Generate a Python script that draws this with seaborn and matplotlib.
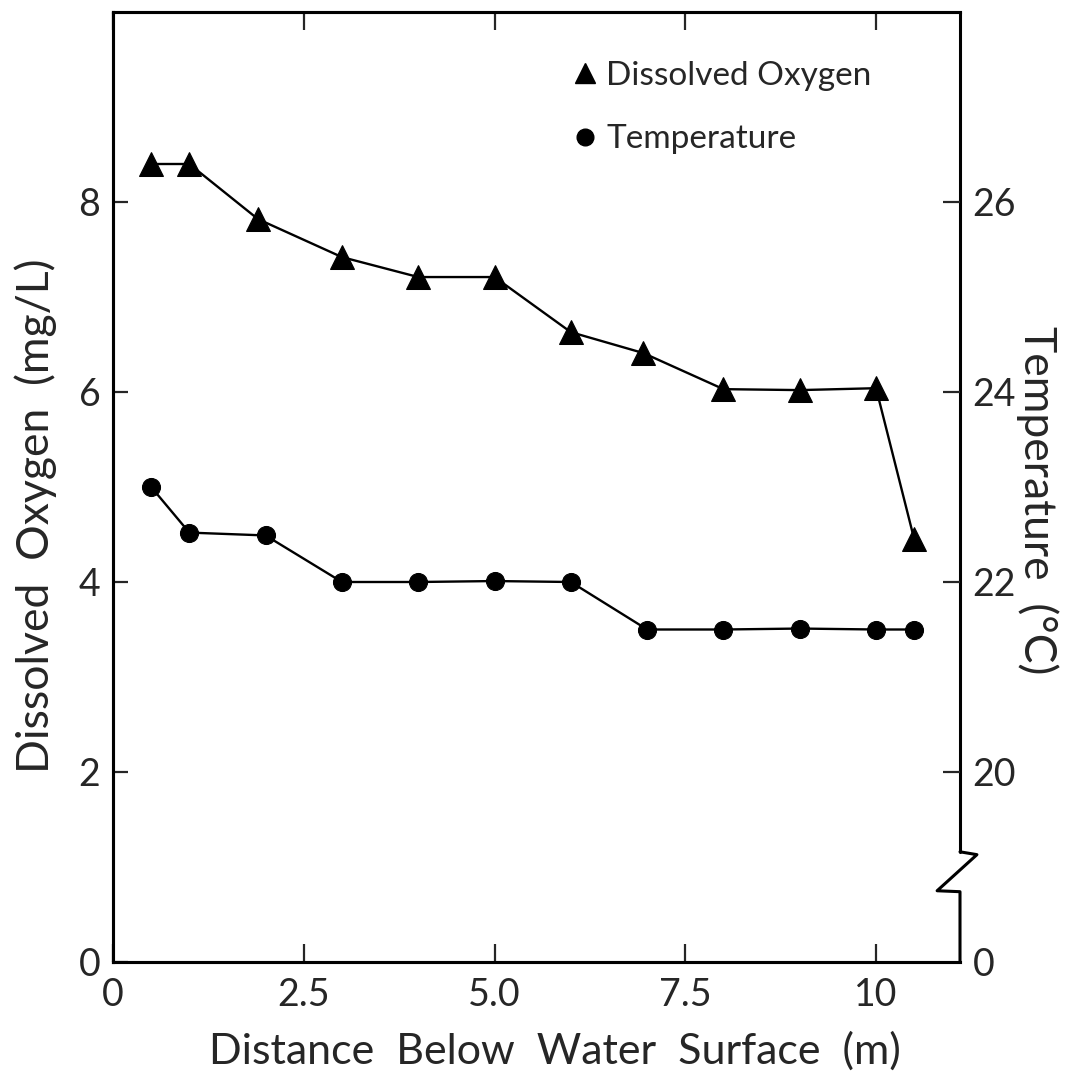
import numpy as np
import pandas as pd
import seaborn as sns
import matplotlib.pyplot as plt
from matplotlib.lines import Line2D

# depth (m) and readings
do_depth = [0.5, 1.0, 1.9, 3.0, 4.0, 5.0, 6.0, 6.95, 8.0, 9.0, 10.0, 10.5]
do_mgl = [8.4, 8.4, 7.82, 7.42, 7.21, 7.21, 6.63, 6.41, 6.03, 6.02, 6.04, 4.45]
temp_depth = [0.5, 1.0, 2.0, 3.0, 4.0, 5.0, 6.0, 7.0, 8.0, 9.0, 10.0, 10.5]
temp_c = [23.0, 22.52, 22.49, 22.0, 22.0, 22.01, 22.0, 21.5, 21.5, 21.51, 21.5, 21.5]

x_ticks = [0, 2.5, 5.0, 7.5, 10]
x_labels = ['0', '2.5', '5.0', '7.5', '10']
do_ticks = [0, 2, 4, 6, 8]
temp_ticks = [18, 20, 22, 24, 26]
temp_labels = ['0', '20', '22', '24', '26']

sns.set_style('ticks')
plt.rcParams['font.family'] = ['Lato', 'DejaVu Sans']

fig = plt.figure(figsize=(10.7, 10.73), dpi=100)
ax = fig.add_axes([113 / 1070, 1 - 962 / 1073, (960 - 113) / 1070, (962 - 12) / 1073])
ax2 = ax.twinx()

df_do = pd.DataFrame({'depth': do_depth, 'do': do_mgl})
df_t = pd.DataFrame({'depth': temp_depth, 'temp': temp_c})

sns.lineplot(data=df_do, x='depth', y='do', ax=ax, color='black', lw=1.7,
             marker='^', markersize=17, markeredgecolor='black', clip_on=False)
sns.lineplot(data=df_t, x='depth', y='temp', ax=ax2, color='black', lw=1.7,
             marker='o', markersize=13, markeredgecolor='black', clip_on=False)

ax.set_xlim(0.04, 11.1)
ax.set_ylim(0, 10)
ax2.set_ylim(18, 28)

ax.set_xticks(x_ticks)
ax.set_xticklabels(x_labels)
ax.set_yticks(do_ticks)
ax2.set_yticks(temp_ticks)
ax2.set_yticklabels(temp_labels)

for a in (ax, ax2):
    for s in a.spines.values():
        s.set_linewidth(2.2)
        s.set_color('black')
ax2.spines['right'].set_visible(False)
ax.spines['right'].set_visible(False)

ax.tick_params(axis='x', direction='in', top=True, length=13, width=1.6,
               labelsize=27, pad=11)
ax.tick_params(axis='y', direction='in', length=11, width=1.6, labelsize=27, pad=9)
ax2.tick_params(axis='y', direction='in', length=12, width=1.6, labelsize=27, pad=9)
ax2.yaxis.get_major_ticks()[0].tick2line.set_visible(False)

# right spine with the axis break
tr = ax.get_yaxis_transform()
ax.add_line(Line2D([1, 1], [10, 1.16], transform=tr, color='black', lw=2.2, clip_on=False))
ax.add_line(Line2D([1, 1.02, 0.973, 1, 1], [1.16, 1.13, 0.75, 0.74, 0],
                   transform=tr, color='black', lw=2.2, clip_on=False))

ax.set_xlabel('Distance  Below  Water  Surface  (m)', fontsize=31)
ax.xaxis.set_label_coords(0.522, -0.073)
ax.set_ylabel('Dissolved  Oxygen  (mg/L)', fontsize=32)
ax.yaxis.set_label_coords(-0.066, 0.47)
ax2.set_ylabel('Temperature  (°C)', fontsize=32, rotation=-90)
ax2.yaxis.set_label_coords(1.116, 0.486)

handles = [Line2D([], [], color='black', marker='^', ls='', markersize=15),
           Line2D([], [], color='black', marker='o', ls='', markersize=12)]
ax.legend(handles, ['Dissolved Oxygen', 'Temperature'], loc='upper left',
          bbox_to_anchor=(0.492, 0.98), frameon=False, fontsize=24,
          handletextpad=-0.1, labelspacing=1.0, handlelength=1.5)

fig.savefig('out.png', dpi=100)
